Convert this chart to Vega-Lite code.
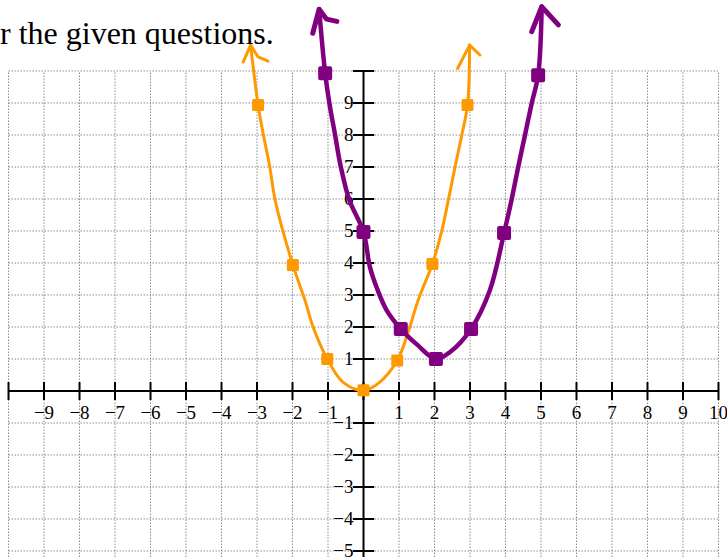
{
  "$schema": "https://vega.github.io/schema/vega-lite/v6.json",
  "width": 727,
  "height": 557,
  "autosize": {"type": "none"},
  "padding": 0,
  "background": "white",
  "title": {
    "text": "r the given questions.",
    "anchor": "start",
    "frame": "group",
    "font": "Liberation Serif",
    "fontSize": 32,
    "fontWeight": "normal",
    "color": "black",
    "offset": 0,
    "baseline": "alphabetic",
    "dy": 76
  },
  "config": {"view": {"stroke": null}, "axis": {"disable": true}},
  "datasets": {
    "gridX": [{"v":-10},{"v":-9},{"v":-8},{"v":-7},{"v":-6},{"v":-5},{"v":-4},{"v":-3},{"v":-2},{"v":-1},{"v":0},{"v":1},{"v":2},{"v":3},{"v":4},{"v":5},{"v":6},{"v":7},{"v":8},{"v":9},{"v":10}],
    "gridY": [{"v":-5},{"v":-4},{"v":-3},{"v":-2},{"v":-1},{"v":0},{"v":1},{"v":2},{"v":3},{"v":4},{"v":5},{"v":6},{"v":7},{"v":8},{"v":9},{"v":10}],
    "axes": [{"x1":-10,"x2":10,"y1":0,"y2":0},{"x1":0,"x2":0,"y1":-5.1875,"y2":10}],
    "xlabels": [{"v":-9,"t":"−9"},{"v":-8,"t":"−8"},{"v":-7,"t":"−7"},{"v":-6,"t":"−6"},{"v":-5,"t":"−5"},{"v":-4,"t":"−4"},{"v":-3,"t":"−3"},{"v":-2,"t":"−2"},{"v":-1,"t":"−1"},{"v":1,"t":"1"},{"v":2,"t":"2"},{"v":3,"t":"3"},{"v":4,"t":"4"},{"v":5,"t":"5"},{"v":6,"t":"6"},{"v":7,"t":"7"},{"v":8,"t":"8"},{"v":9,"t":"9"},{"v":10,"t":"10"}],
    "ylabels": [{"v":-5,"t":"−5"},{"v":-4,"t":"−4"},{"v":-3,"t":"−3"},{"v":-2,"t":"−2"},{"v":-1,"t":"−1"},{"v":1,"t":"1"},{"v":2,"t":"2"},{"v":3,"t":"3"},{"v":4,"t":"4"},{"v":5,"t":"5"},{"v":6,"t":"6"},{"v":7,"t":"7"},{"v":8,"t":"8"},{"v":9,"t":"9"}],
    "orange": [
      {"i":0,"x":-3.18,"y":10.81},{"i":1,"x":-2.97,"y":8.94},{"i":2,"x":-2.83,"y":8.06},{"i":3,"x":-2.64,"y":7.0},{"i":4,"x":-2.49,"y":5.97},{"i":5,"x":-1.99,"y":3.94},{"i":6,"x":-1.65,"y":2.84},{"i":7,"x":-1.42,"y":2.0},{"i":8,"x":-1.02,"y":1.0},{"i":9,"x":-0.58,"y":0.28},{"i":10,"x":0.0,"y":0.02},{"i":11,"x":0.46,"y":0.28},{"i":12,"x":0.95,"y":0.95},{"i":13,"x":1.25,"y":1.81},{"i":14,"x":1.54,"y":2.84},{"i":15,"x":1.94,"y":3.97},{"i":16,"x":2.2,"y":4.98},{"i":17,"x":2.39,"y":5.97},{"i":18,"x":2.58,"y":7.01},{"i":19,"x":2.77,"y":8.0},{"i":20,"x":2.93,"y":8.94},{"i":21,"x":2.99,"y":10.81}
    ],
    "purple": [
      {"i":0,"x":-1.25,"y":11.93},{"i":1,"x":-1.08,"y":9.93},{"i":2,"x":-0.96,"y":8.99},{"i":3,"x":-0.8,"y":8.0},{"i":4,"x":-0.64,"y":7.01},{"i":5,"x":-0.4,"y":5.97},{"i":6,"x":0.0,"y":4.97},{"i":7,"x":0.18,"y":3.88},{"i":8,"x":0.4,"y":3.15},{"i":9,"x":0.65,"y":2.53},{"i":10,"x":1.05,"y":1.94},{"i":11,"x":1.51,"y":1.45},{"i":12,"x":2.04,"y":1.0},{"i":13,"x":2.44,"y":1.22},{"i":14,"x":3.03,"y":1.94},{"i":15,"x":3.56,"y":3.15},{"i":16,"x":3.96,"y":4.94},{"i":17,"x":4.17,"y":5.97},{"i":18,"x":4.36,"y":7.01},{"i":19,"x":4.55,"y":8.0},{"i":20,"x":4.74,"y":9.0},{"i":21,"x":4.92,"y":9.87},{"i":22,"x":5.02,"y":12.01}
    ],
    "orangeMarks": [{"x":-2.97,"y":8.94},{"x":-1.99,"y":3.94},{"x":-1.02,"y":1.0},{"x":0.0,"y":0.02},{"x":0.95,"y":0.95},{"x":1.94,"y":3.97},{"x":2.93,"y":8.94}],
    "purpleMarks": [{"x":-1.08,"y":9.93},{"x":0.0,"y":4.97},{"x":1.05,"y":1.94},{"x":2.04,"y":1.0},{"x":3.03,"y":1.94},{"x":3.96,"y":4.94},{"x":4.92,"y":9.87}],
    "orangeArrows": [
      {"g":"a","i":0,"x":-3.39,"y":10.28},{"g":"a","i":1,"x":-3.18,"y":10.81},{"g":"a","i":2,"x":-2.97,"y":10.44},{"g":"a","i":3,"x":-2.69,"y":10.31},
      {"g":"b","i":0,"x":2.65,"y":10.08},{"g":"b","i":1,"x":2.99,"y":10.81},{"g":"b","i":2,"x":3.28,"y":10.5}
    ],
    "purpleArrows": [
      {"g":"a","i":0,"x":-1.43,"y":11.18},{"g":"a","i":1,"x":-1.25,"y":11.93},{"g":"a","i":2,"x":-1.04,"y":11.62},{"g":"a","i":3,"x":-0.75,"y":11.55},
      {"g":"b","i":0,"x":4.74,"y":11.23},{"g":"b","i":1,"x":5.02,"y":12.01},{"g":"b","i":2,"x":5.49,"y":11.44}
    ]
  },
  "layer": [
    {
      "data": {"name": "gridX"},
      "mark": {"type": "rule", "color": "#8c8c8c", "strokeWidth": 1, "strokeDash": [1.5, 1.5]},
      "encoding": {
        "x": {"field": "v", "type": "quantitative", "scale": {"domain": [-10.24, 10.24], "nice": false, "zero": false}},
        "y": {"datum": -5.1875, "type": "quantitative", "scale": {"domain": [-5.1875, 12.219], "nice": false, "zero": false}},
        "y2": {"datum": 10}
      }
    },
    {
      "data": {"name": "gridY"},
      "mark": {"type": "rule", "color": "#8c8c8c", "strokeWidth": 1, "strokeDash": [1.5, 1.5]},
      "encoding": {
        "y": {"field": "v", "type": "quantitative"},
        "x": {"datum": -10, "type": "quantitative"},
        "x2": {"datum": 10}
      }
    },
    {
      "data": {"name": "axes"},
      "mark": {"type": "rule", "color": "black", "strokeWidth": 2},
      "encoding": {
        "x": {"field": "x1", "type": "quantitative"},
        "x2": {"field": "x2"},
        "y": {"field": "y1", "type": "quantitative"},
        "y2": {"field": "y2"}
      }
    },
    {
      "data": {"name": "gridX"},
      "mark": {"type": "rule", "color": "black", "strokeWidth": 2},
      "encoding": {
        "x": {"field": "v", "type": "quantitative"},
        "y": {"datum": -0.28, "type": "quantitative"},
        "y2": {"datum": 0.28}
      }
    },
    {
      "data": {"name": "gridY"},
      "mark": {"type": "rule", "color": "black", "strokeWidth": 2},
      "encoding": {
        "y": {"field": "v", "type": "quantitative"},
        "x": {"datum": -0.3, "type": "quantitative"},
        "x2": {"datum": 0.3}
      }
    },
    {
      "data": {"name": "xlabels"},
      "mark": {"type": "text", "font": "Liberation Serif", "fontSize": 19, "color": "black", "align": "center", "baseline": "alphabetic", "dy": 28},
      "encoding": {
        "x": {"field": "v", "type": "quantitative"},
        "y": {"datum": 0, "type": "quantitative"},
        "text": {"field": "t"}
      }
    },
    {
      "data": {"name": "ylabels"},
      "mark": {"type": "text", "font": "Liberation Serif", "fontSize": 19, "color": "black", "align": "right", "baseline": "alphabetic", "dx": -10, "dy": 6},
      "encoding": {
        "y": {"field": "v", "type": "quantitative"},
        "x": {"datum": 0, "type": "quantitative"},
        "text": {"field": "t"}
      }
    },
    {
      "data": {"name": "orange"},
      "mark": {"type": "line", "color": "#ff9900", "strokeWidth": 3, "interpolate": "catmull-rom", "strokeCap": "round", "strokeJoin": "round"},
      "encoding": {
        "x": {"field": "x", "type": "quantitative"},
        "y": {"field": "y", "type": "quantitative"},
        "order": {"field": "i"}
      }
    },
    {
      "data": {"name": "purple"},
      "mark": {"type": "line", "color": "#800080", "strokeWidth": 4.5, "interpolate": "catmull-rom", "strokeCap": "round", "strokeJoin": "round"},
      "encoding": {
        "x": {"field": "x", "type": "quantitative"},
        "y": {"field": "y", "type": "quantitative"},
        "order": {"field": "i"}
      }
    },
    {
      "data": {"name": "orangeArrows"},
      "mark": {"type": "line", "color": "#ff9900", "strokeWidth": 3, "strokeCap": "round", "strokeJoin": "round"},
      "encoding": {
        "x": {"field": "x", "type": "quantitative"},
        "y": {"field": "y", "type": "quantitative"},
        "detail": {"field": "g"},
        "order": {"field": "i"}
      }
    },
    {
      "data": {"name": "purpleArrows"},
      "mark": {"type": "line", "color": "#800080", "strokeWidth": 5, "strokeCap": "round", "strokeJoin": "round"},
      "encoding": {
        "x": {"field": "x", "type": "quantitative"},
        "y": {"field": "y", "type": "quantitative"},
        "detail": {"field": "g"},
        "order": {"field": "i"}
      }
    },
    {
      "data": {"name": "orangeMarks"},
      "mark": {"type": "point", "shape": "square", "filled": true, "size": 81, "color": "#ff9900", "stroke": "#ff9900", "strokeWidth": 3, "strokeJoin": "round", "opacity": 1},
      "encoding": {
        "x": {"field": "x", "type": "quantitative"},
        "y": {"field": "y", "type": "quantitative"}
      }
    },
    {
      "data": {"name": "purpleMarks"},
      "mark": {"type": "point", "shape": "square", "filled": true, "size": 100, "color": "#800080", "stroke": "#800080", "strokeWidth": 4, "strokeJoin": "round", "opacity": 1},
      "encoding": {
        "x": {"field": "x", "type": "quantitative"},
        "y": {"field": "y", "type": "quantitative"}
      }
    }
  ]
}
